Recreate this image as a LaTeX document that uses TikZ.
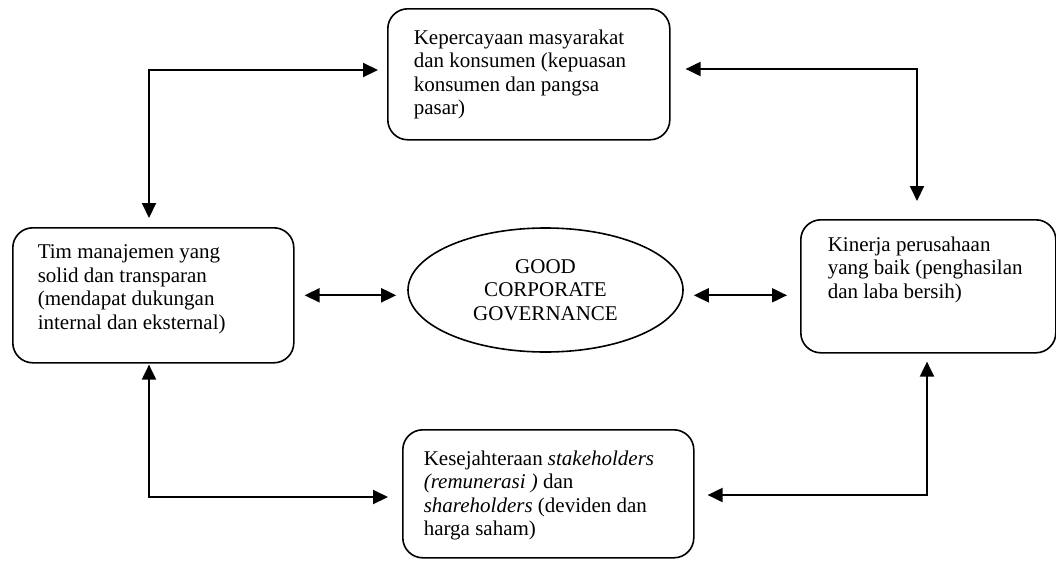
\documentclass[tikz,border=0pt]{standalone}
\usepackage{fontspec}
\setmainfont{Liberation Serif}
\usetikzlibrary{arrows.meta,shapes.geometric}

\tikzset{
  kotak/.style={draw, line width=1.6pt, rounded corners=20pt, anchor=north west},
  panah/.style={line width=2pt, {Triangle[length=15pt,width=14pt]}-{Triangle[length=15pt,width=14pt]}},
  every node/.style={font=\fontsize{21}{23.5}\selectfont},
}
\newcommand{\isi}[3]{\parbox[t][#2][t]{#1}{\raggedright #3}}

\begin{document}
\begin{tikzpicture}[x=1pt,y=-1pt]
    \useasboundingbox (0,0) rectangle (1056,562);

    \node[kotak, inner xsep=26pt, inner ysep=21pt] (kep) at (387,8)
      {\isi{230pt}{89pt}{Kepercayaan masyarakat\\dan konsumen (kepuasan\\konsumen dan pangsa\\pasar)}};
    \node[kotak, inner xsep=25pt, inner ysep=17pt] (tim) at (12,227)
      {\isi{231pt}{101pt}{Tim manajemen yang\\solid dan transparan\\(mendapat dukungan\\internal dan eksternal)}};
    \node[kotak, inner xsep=27pt, inner ysep=17pt] (kin) at (800,219)
      {\isi{201pt}{99pt}{Kinerja perusahaan\\yang baik (penghasilan\\dan laba bersih)}};
    \node[kotak, inner xsep=21pt, inner ysep=21pt] (kes) at (402,429)
      {\isi{249pt}{86pt}{Kesejahteraan \textit{stakeholders}\\\textit{(remunerasi )} dan\\\textit{shareholders} (deviden dan\\harga saham)}};

    \node[draw, ellipse, line width=1.6pt, minimum width=275pt, minimum height=124pt,
          inner sep=0pt, align=center] (gcg) at (545.5,290) {GOOD\\CORPORATE\\GOVERNANCE};

    \coordinate (tl) at (149,70);
    \coordinate (tr) at (917,69);
    \coordinate (bl) at (149,497);
    \coordinate (br) at (927,495);

    \draw[panah, shorten <=9pt, shorten >=9pt] (tl -| kep.west) -- (tl) -- (tl |- tim.north);
    \draw[panah, shorten <=15pt, shorten >=18pt] (tr -| kep.east) -- (tr) -- (tr |- kin.north);
    \draw[panah, shorten <=1pt, shorten >=14pt] (bl |- tim.south) -- (bl) -- (bl -| kes.west);
    \draw[panah, shorten <=13pt, shorten >=8pt] (br -| kes.east) -- (br) -- (br |- kin.south);

    \draw[panah, shorten <=10pt, shorten >=11pt] (tim.east) -- (tim.east -| gcg.west);
    \draw[panah, shorten <=10pt, shorten >=13pt] (gcg.east |- tim.east) -- (kin.west |- tim.east);
\end{tikzpicture}
\end{document}
